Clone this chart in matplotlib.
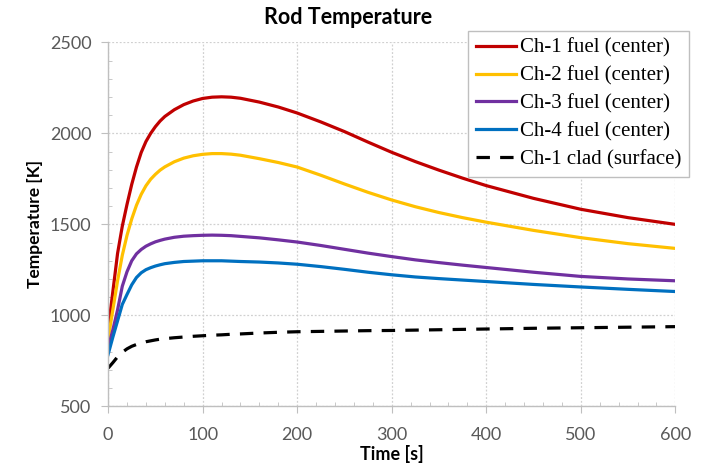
import matplotlib.pyplot as plt
from matplotlib.ticker import MultipleLocator

# time points [s]
time = [0, 5, 10, 15, 20, 25, 30, 35, 40, 45, 50, 55, 60, 70, 80, 90, 100, 110,
        120, 130, 140, 160, 180, 200, 225, 250, 275, 300, 325, 350, 375, 400,
        450, 500, 550, 600]

ch1_fuel = [920, 1130, 1340, 1490, 1610, 1720, 1815, 1895, 1955, 2000, 2037, 2068,
            2093, 2130, 2158, 2178, 2192, 2199, 2201, 2199, 2193, 2172, 2145, 2112,
            2063, 2010, 1952, 1896, 1845, 1798, 1754, 1713, 1643, 1583, 1537, 1500]
ch2_fuel = [870, 1030, 1190, 1330, 1440, 1530, 1605, 1665, 1712, 1748, 1775, 1798,
            1816, 1844, 1864, 1877, 1885, 1889, 1889, 1886, 1880, 1861, 1840, 1815,
            1770, 1722, 1676, 1634, 1597, 1565, 1537, 1512, 1467, 1427, 1394, 1368]
ch3_fuel = [820, 920, 1030, 1160, 1240, 1300, 1338, 1362, 1380, 1393, 1404, 1412,
            1419, 1429, 1435, 1438, 1440, 1441, 1440, 1438, 1434, 1426, 1415, 1403,
            1384, 1363, 1342, 1323, 1305, 1290, 1276, 1263, 1237, 1214, 1200, 1190]
ch4_fuel = [785, 880, 970, 1060, 1115, 1168, 1208, 1234, 1251, 1262, 1271, 1278,
            1284, 1291, 1296, 1298, 1300, 1300, 1300, 1298, 1296, 1293, 1288, 1281,
            1268, 1253, 1237, 1223, 1211, 1202, 1194, 1186, 1170, 1156, 1143, 1131]
ch1_clad = [710, 740, 772, 797, 816, 830, 840, 848, 855, 860, 865, 869, 872, 877,
            881, 885, 888, 891, 893, 896, 898, 903, 907, 910, 912, 914, 916, 917,
            919, 921, 923, 925, 929, 932, 935, 938]

labels = ['Ch-1 fuel (center)', 'Ch-2 fuel (center)', 'Ch-3 fuel (center)',
          'Ch-4 fuel (center)', 'Ch-1 clad (surface)']

fig = plt.figure(figsize=(7.02, 4.66), dpi=100)
ax = fig.add_axes([0.154, 0.128, 0.808, 0.781])

lw = 2.3
ax.plot(time, ch1_fuel, color='#C00000', lw=lw, label=labels[0])
ax.plot(time, ch2_fuel, color='#FFC000', lw=lw, label=labels[1])
ax.plot(time, ch3_fuel, color='#7030A0', lw=lw, label=labels[2])
ax.plot(time, ch4_fuel, color='#0070C0', lw=lw, label=labels[3])
ax.plot(time, ch1_clad, color='black', lw=lw, ls=(0, (4.2, 3.2)), label=labels[4])

ax.set_xlim(0, 600)
ax.set_ylim(500, 2500)
ax.xaxis.set_major_locator(MultipleLocator(100))
ax.xaxis.set_minor_locator(MultipleLocator(20))
ax.yaxis.set_major_locator(MultipleLocator(500))
ax.yaxis.set_minor_locator(MultipleLocator(100))

ax.grid(True, which='major', ls=(0, (1.5, 1.5)), color='#d0d0d0', lw=0.9)
for s in ['top', 'right']:
    ax.spines[s].set_visible(False)
for s in ['left', 'bottom']:
    ax.spines[s].set_color('#bfbfbf')
    ax.spines[s].set_linewidth(1.0)

ax.tick_params(which='major', direction='out', length=5, color='#bfbfbf',
               labelcolor='#595959', labelsize=13)
ax.tick_params(axis='x', which='major', pad=10)
ax.tick_params(axis='y', which='major', pad=7)
ax.tick_params(which='minor', direction='in', length=3, color='#bfbfbf')
for lab in ax.get_xticklabels() + ax.get_yticklabels():
    lab.set_fontfamily('Lato')

fig.text(348 / 702, 1 - 18 / 466, 'Rod Temperature', fontfamily='Lato',
         fontweight='bold', fontsize=15.5, ha='center', va='center')
ax.set_xlabel('Time [s]', fontfamily='Lato', fontweight='bold', fontsize=13, labelpad=1)
ax.set_ylabel('Temperature [K]', fontfamily='Lato', fontweight='bold', fontsize=12.5,
              labelpad=5)

leg = ax.legend(loc='upper right', bbox_to_anchor=(689 / 702, 1 - 31 / 466),
                bbox_transform=fig.transFigure, borderaxespad=0,
                prop={'family': 'Liberation Serif', 'size': 15},
                fancybox=False, framealpha=1, edgecolor='#bfbfbf',
                handlelength=1.95, handletextpad=0.2, labelspacing=0.4,
                borderpad=0.35)
leg.get_frame().set_linewidth(1.0)

fig.savefig('out.png', dpi=100)
